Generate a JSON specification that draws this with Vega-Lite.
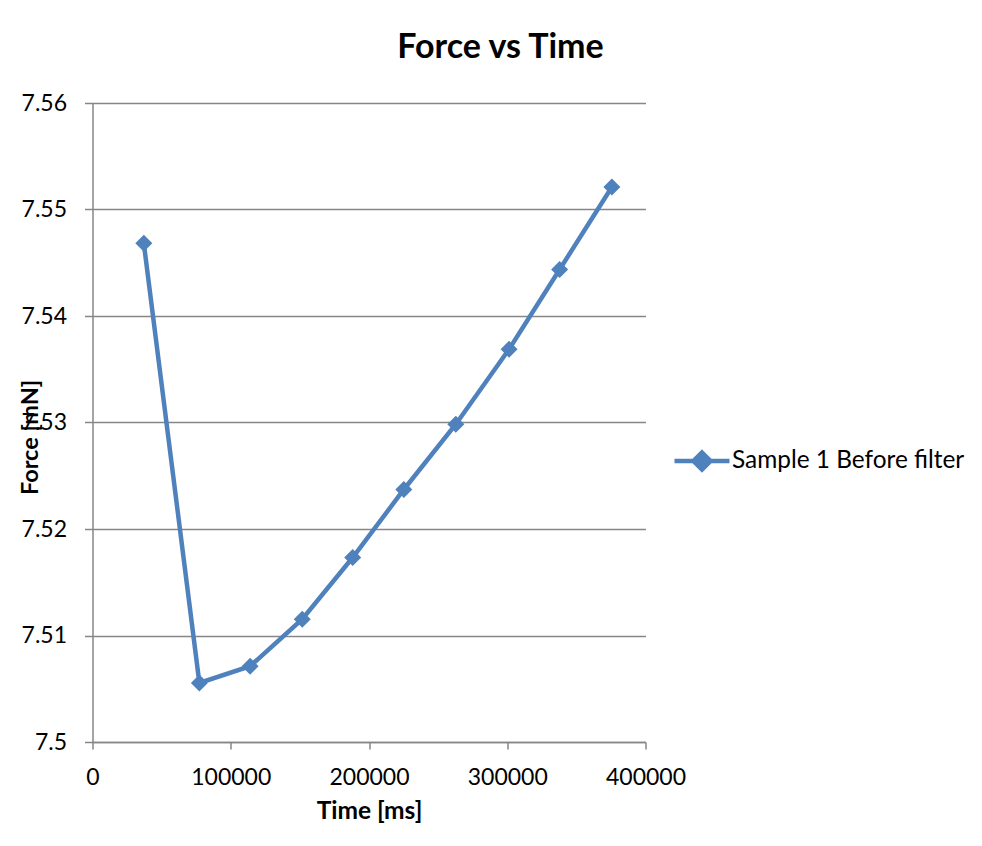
{
  "$schema": "https://vega.github.io/schema/vega-lite/v6.json",
  "autosize": {"type": "none"},
  "width": 553,
  "height": 639,
  "padding": {"left": 92.5, "top": 103, "right": 336.5, "bottom": 104},
  "background": "white",
  "title": {
    "text": "Force vs Time",
    "font": "Lato",
    "fontSize": 34,
    "fontWeight": "bold",
    "color": "#000000",
    "anchor": "middle",
    "frame": "group",
    "dx": 131.5,
    "dy": 44,
    "baseline": "alphabetic",
    "offset": 44
  },
  "data": {
    "values": [
      {"time": 37100, "force": 7.54684, "series": "Sample 1 Before filter"},
      {"time": 77300, "force": 7.50555, "series": "Sample 1 Before filter"},
      {"time": 114000, "force": 7.50712, "series": "Sample 1 Before filter"},
      {"time": 151700, "force": 7.51153, "series": "Sample 1 Before filter"},
      {"time": 188200, "force": 7.51732, "series": "Sample 1 Before filter"},
      {"time": 225200, "force": 7.52371, "series": "Sample 1 Before filter"},
      {"time": 262800, "force": 7.52984, "series": "Sample 1 Before filter"},
      {"time": 301300, "force": 7.53688, "series": "Sample 1 Before filter"},
      {"time": 337900, "force": 7.54437, "series": "Sample 1 Before filter"},
      {"time": 375700, "force": 7.55212, "series": "Sample 1 Before filter"}
    ]
  },
  "mark": {
    "type": "line",
    "strokeWidth": 4.5,
    "point": {"shape": "diamond", "size": 289, "filled": true, "opacity": 1}
  },
  "encoding": {
    "x": {
      "field": "time",
      "type": "quantitative",
      "scale": {"domain": [0, 400000], "nice": false, "zero": false},
      "axis": {
        "values": [0, 100000, 200000, 300000, 400000],
        "format": "d",
        "grid": false,
        "tickSize": 7,
        "tickWidth": 1.5,
        "tickColor": "#868686",
        "domainColor": "#868686",
        "domainWidth": 1.5,
        "labelFont": "Lato",
        "labelFontSize": 23,
        "labelColor": "#000000",
        "labelPadding": 17,
        "labelFlush": false,
        "labelOverlap": false,
        "title": "Time [ms]",
        "titleFont": "Lato",
        "titleFontSize": 24.5,
        "titleFontWeight": "bold",
        "titleColor": "#000000",
        "titleBaseline": "alphabetic",
        "titleAlign": "center",
        "titleX": 276.5,
        "titleY": 76
      }
    },
    "y": {
      "field": "force",
      "type": "quantitative",
      "scale": {"domain": [7.5, 7.56], "nice": false, "zero": false},
      "axis": {
        "values": [7.5, 7.51, 7.52, 7.53, 7.54, 7.55, 7.56],
        "format": ".2~f",
        "grid": true,
        "gridColor": "#868686",
        "gridWidth": 1.5,
        "tickSize": 8,
        "tickWidth": 1.5,
        "tickColor": "#868686",
        "domainColor": "#868686",
        "domainWidth": 1.5,
        "labelFont": "Lato",
        "labelFontSize": 23,
        "labelColor": "#000000",
        "labelPadding": 18,
        "labelFlush": false,
        "labelOverlap": false,
        "title": "Force [mN]",
        "titleFont": "Lato",
        "titleFontSize": 23.5,
        "titleFontWeight": "bold",
        "titleColor": "#000000",
        "titleAngle": 270,
        "titleBaseline": "alphabetic",
        "titleAlign": "center",
        "titleX": -55,
        "titleY": 334
      }
    },
    "color": {
      "field": "series",
      "type": "nominal",
      "scale": {"range": ["#4F81BD"]},
      "legend": {
        "title": null,
        "orient": "none",
        "legendX": 579.5,
        "legendY": 328,
        "padding": 0,
        "labelFont": "Lato",
        "labelFontSize": 24.4,
        "labelLimit": 400,
        "labelColor": "#000000",
        "labelOffset": 0,
        "symbolType": "M-1,0L1,0M0,-0.31L0.31,0L0,0.31L-0.31,0Z",
        "symbolSize": 3025,
        "symbolStrokeWidth": 4.5,
        "symbolFillColor": "#4F81BD",
        "symbolStrokeColor": "#4F81BD",
        "symbolOpacity": 1
      }
    }
  },
  "config": {
    "view": {"stroke": null}
  }
}
